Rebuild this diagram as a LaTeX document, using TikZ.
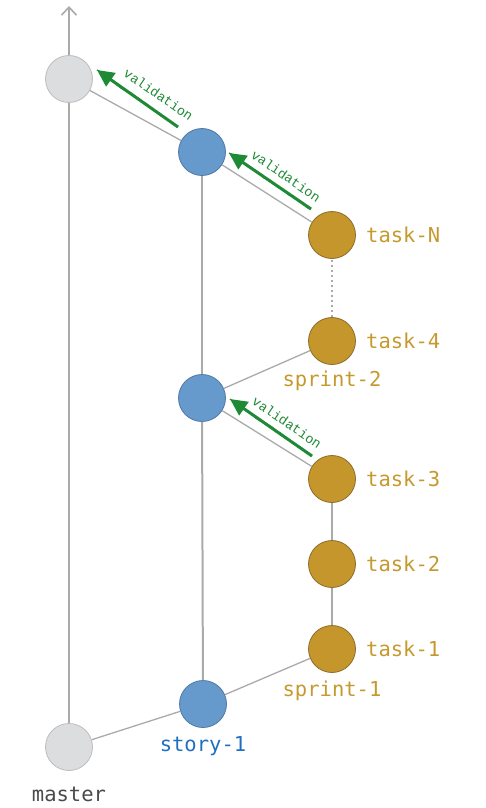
\documentclass[tikz,border=0pt]{standalone}
\usepackage{fontspec}
\setmonofont{DejaVu Sans Mono}
\newfontfamily\valfont{Liberation Mono}
\usetikzlibrary{arrows.meta,decorations.pathmorphing}
\definecolor{nodegray}{HTML}{DCDDDF}
\definecolor{nodegrayb}{HTML}{BDBDBD}
\definecolor{nodeblue}{HTML}{6699CC}
\definecolor{nodeblueb}{HTML}{4F79A6}
\definecolor{nodegold}{HTML}{C4962C}
\definecolor{nodegoldb}{HTML}{8C6D2A}
\definecolor{txtgold}{HTML}{C6992E}
\definecolor{txtblue}{HTML}{1F6FC1}
\definecolor{txtgray}{HTML}{4A4A4A}
\definecolor{linegray}{HTML}{AAAAAA}
\definecolor{valgreen}{HTML}{1E8A35}
\tikzset{
  commit/.style={circle, minimum size=47pt, inner sep=0pt, line width=0.8pt},
  mcommit/.style={commit, fill=nodegray, draw=nodegrayb},
  scommit/.style={commit, fill=nodeblue, draw=nodeblueb},
  tcommit/.style={commit, fill=nodegold, draw=nodegoldb},
  lbl/.style={font=\ttfamily\fontsize{20.5}{24}\selectfont, inner sep=0pt},
  trunk/.style={draw=linegray, line width=2pt},
  branch/.style={draw=linegray, line width=1.3pt},
  valarrow/.style={draw=valgreen, line width=3pt, -{Triangle[length=17pt,width=16pt]}, color=valgreen},
  valsketch/.style={draw=valgreen, line width=1.2pt, decorate, decoration={random steps, segment length=4pt, amplitude=1pt}},
  vallbl/.style={font=\valfont\fontsize{13.4}{15}\selectfont, text=valgreen, inner sep=0pt},
}
\begin{document}
\begin{tikzpicture}[x=1pt,y=-1pt]
\useasboundingbox (0,0) rectangle (486,808);
% nodes
\node[mcommit] (mb) at (69,747) {};
\node[mcommit] (mt) at (69,79) {};
\node[scommit] (s1) at (203,704) {};
\node[scommit] (s2) at (202,398) {};
\node[scommit] (s3) at (202,152) {};
\node[tcommit] (t1) at (332,649) {};
\node[tcommit] (t2) at (332,564) {};
\node[tcommit] (t3) at (332,479) {};
\node[tcommit] (t4) at (332,341) {};
\node[tcommit] (tN) at (332,235) {};
\coordinate (top) at (69,6);
% connectors
\draw[trunk] (mb) -- (mt);
\draw[trunk, -{Straight Barb[length=8pt,width=15pt,line width=1.6pt]}] (mt) -- (top);
\draw[trunk] (s1) -- (s2);
\draw[trunk] (s2) -- (s3);
\draw[trunk] (t1) -- (t2);
\draw[trunk] (t2) -- (t3);
\draw[draw=linegray, line width=1.6pt, dash pattern=on 2pt off 3pt] (t4) -- (tN);
\draw[branch] (mb) -- (s1);
\draw[branch] (s1) -- (t1);
\draw[branch] (s2) -- (t4);
\draw[branch] (s2) -- (t3);
\draw[branch] (tN) -- (s3);
\draw[branch] (s3) -- (mt);
% labels
\node[lbl, text=txtgold, anchor=west] (lN) at (366,235) {task-N};
\node[lbl, text=txtgold, anchor=west] (l4) at (366,341) {task-4};
\node[lbl, text=txtgold, anchor=west] (l3) at (366,479) {task-3};
\node[lbl, text=txtgold, anchor=west] (l2) at (366,564) {task-2};
\node[lbl, text=txtgold, anchor=west] (l1) at (366,649) {task-1};
\node[lbl, text=txtgold] (sp2) at (332,381) {sprint-2};
\node[lbl, text=txtgold] (sp1) at (332,691) {sprint-1};
\node[lbl, text=txtblue] (st1) at (203,746) {story-1};
\node[lbl, text=txtgray] (ms) at (69,794) {master};
% validation arrows
\coordinate (v1a) at (178,127);
\coordinate (v1b) at (97,70);
\coordinate (v2a) at (311,209);
\coordinate (v2b) at (229,153);
\coordinate (v3a) at (312,456);
\coordinate (v3b) at (230,399);
\foreach \a/\b in {v1a/v1b, v2a/v2b, v3a/v3b}{
  \draw[valarrow] (\a) -- (\b);
  \draw[valsketch] (\a) -- (\b);
}
\node[vallbl, rotate=-34.5] (vt1) at (158.5,94.5) {validation};
\node[vallbl, rotate=-34.5] (vt2) at (286,176) {validation};
\node[vallbl, rotate=-34.5] (vt3) at (287,422.5) {validation};
\end{tikzpicture}
\end{document}
